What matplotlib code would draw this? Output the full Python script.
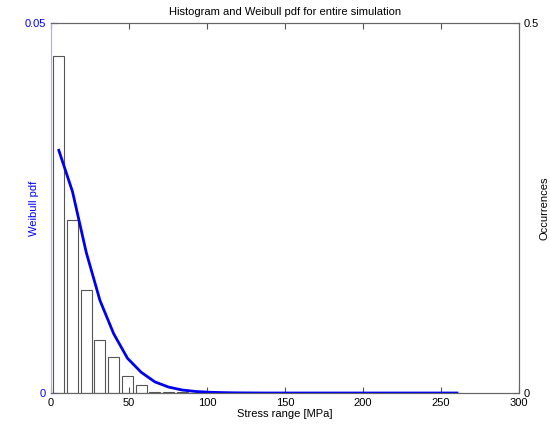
import numpy as np
import matplotlib
matplotlib.use('Agg')
import matplotlib.pyplot as plt

plt.rcParams['font.family'] = ['Liberation Sans', 'DejaVu Sans']
plt.rcParams['font.size'] = 8

# histogram bin centres (MPa) and relative occurrences
bin_width = 8.8
centres = [5.0 + bin_width * i for i in range(30)]
occurrences = [0.455, 0.234, 0.139, 0.0716, 0.049, 0.023, 0.0104, 0.0018, 0.0015,
               0.0008, 0.0005, 0.0004, 0.0003, 0.0002, 0.0002, 0.0001, 0.0001, 0.0001,
               0.0001, 0.0001, 0.0001, 0.0001, 0.0001, 0.0001, 0.0001, 0.0001, 0.0001,
               0.0001, 0.0001, 0.0001]

# Weibull pdf evaluated at the bin centres
weibull = [0.0328, 0.0272, 0.0190, 0.0125, 0.0080, 0.0047, 0.0028, 0.0015, 0.0008,
           0.0004, 0.0002, 0.0001, 0.00005, 0.00002, 0.00001, 0, 0, 0, 0, 0,
           0, 0, 0, 0, 0, 0, 0, 0, 0, 0]

fig = plt.figure(figsize=(5.5, 4.25), dpi=100)
ax1 = fig.add_axes([0.0927, 0.0753, 0.851, 0.8706])
ax2 = ax1.twinx()

# pdf on left axis, bars on right axis (bars behind the line)
ax2.bar(centres, occurrences, width=bin_width * 0.8, color='white',
        edgecolor='#555555', linewidth=0.8)
ax1.plot(centres, weibull, color='#0000ee', linewidth=2)
ax1.set_zorder(ax2.get_zorder() + 1)
ax1.patch.set_visible(False)

ax1.set_xlim(0, 300)
ax1.set_ylim(0, 0.05)
ax2.set_ylim(0, 0.5)
ax1.set_xticks([0, 50, 100, 150, 200, 250, 300])
ax1.set_yticks([0, 0.05])
ax1.set_yticklabels(['0', '0.05'])
ax2.set_yticks([0, 0.5])
ax2.set_yticklabels(['0', '0.5'])

ax1.tick_params(axis='x', direction='in', top=True, length=4, color='#555555')
ax1.tick_params(axis='y', direction='in', colors='#0000ff', length=4)
ax2.tick_params(axis='y', direction='in', length=4, color='#555555')

for s in ['top', 'bottom', 'right']:
    ax1.spines[s].set_color('#666666')
    ax2.spines[s].set_color('#666666')
ax1.spines['left'].set_color('#aab0ff')
ax2.spines['left'].set_color('#aab0ff')

ax1.set_xlabel('Stress range [MPa]', labelpad=1)
ax1.set_ylabel('Weibull pdf', color='#0000ff', labelpad=-10)
ax2.set_ylabel('Occurrences', labelpad=0)
ax1.set_title('Histogram and Weibull pdf for entire simulation', fontsize=8, pad=6)

fig.savefig('out.png', dpi=100)
